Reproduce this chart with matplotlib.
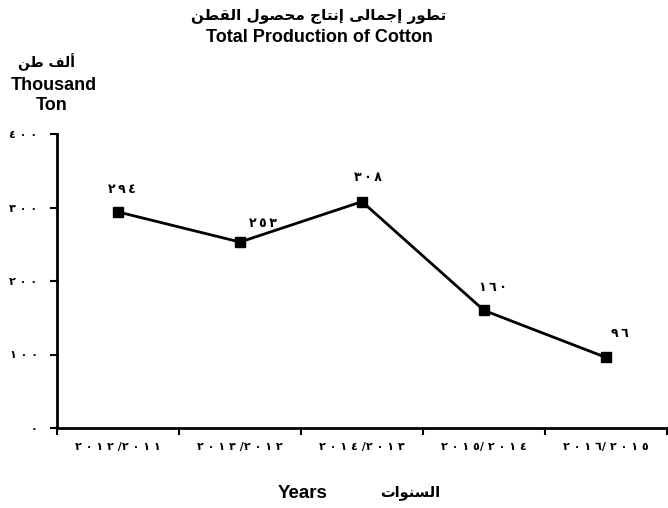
import matplotlib
matplotlib.use("Agg")
import matplotlib.pyplot as plt
import numpy as np

# ---- data ----
years = ["٢٠١٢ /٢٠١١", "٢٠١٣ /٢٠١٢", "٢٠١٤ /٢٠١٣", "٢٠١٥/ ٢٠١٤", "٢٠١٦/ ٢٠١٥"]
production = [294, 253, 308, 160, 96]
value_labels = ["٢٩٤", "٢٥٣", "٣٠٨", "١٦٠", "٩٦"]
yticks = [0, 100, 200, 300, 400]
ytick_labels = ["٠", "١٠٠", "٢٠٠", "٣٠٠", "٤٠٠"]

# ---- minimal Arabic shaping (presentation forms) ----
FORMS = {
    'ا': ('\uFE8D', '\uFE8E', None, None),
    'أ': ('\uFE83', '\uFE84', None, None),
    'إ': ('\uFE87', '\uFE88', None, None),
    'ت': ('\uFE95', '\uFE96', '\uFE97', '\uFE98'),
    'ج': ('\uFE9D', '\uFE9E', '\uFE9F', '\uFEA0'),
    'ح': ('\uFEA1', '\uFEA2', '\uFEA3', '\uFEA4'),
    'ر': ('\uFEAD', '\uFEAE', None, None),
    'س': ('\uFEB1', '\uFEB2', '\uFEB3', '\uFEB4'),
    'ص': ('\uFEB9', '\uFEBA', '\uFEBB', '\uFEBC'),
    'ط': ('\uFEC1', '\uFEC2', '\uFEC3', '\uFEC4'),
    'ف': ('\uFED1', '\uFED2', '\uFED3', '\uFED4'),
    'ق': ('\uFED5', '\uFED6', '\uFED7', '\uFED8'),
    'ل': ('\uFEDD', '\uFEDE', '\uFEDF', '\uFEE0'),
    'م': ('\uFEE1', '\uFEE2', '\uFEE3', '\uFEE4'),
    'ن': ('\uFEE5', '\uFEE6', '\uFEE7', '\uFEE8'),
    'و': ('\uFEED', '\uFEEE', None, None),
    'ى': ('\uFEEF', '\uFEF0', None, None),
}


def dual(c):
    return c in FORMS and FORMS[c][2] is not None


def shape(text):
    out = []
    n = len(text)
    for i, c in enumerate(text):
        if c not in FORMS:
            out.append(c)
            continue
        prev_join = i > 0 and dual(text[i - 1])
        next_join = dual(c) and i + 1 < n and text[i + 1] in FORMS
        iso, fin, ini, med = FORMS[c]
        if prev_join and next_join:
            out.append(med)
        elif prev_join:
            out.append(fin)
        elif next_join:
            out.append(ini)
        else:
            out.append(iso)
    return ''.join(reversed(out))


def spaced(s, sep='\u2009'):
    # add letter spacing between Arabic-Indic digits
    res = ''
    for i, c in enumerate(s):
        res += c
        if i + 1 < len(s) and c.isdigit() and s[i + 1].isdigit():
            res += sep
    return res


plt.rcParams['font.family'] = ['Liberation Sans', 'DejaVu Sans']
plt.rcParams['font.weight'] = 'bold'

fig = plt.figure(figsize=(6.68, 5.08), dpi=100)
ax = fig.add_axes([57 / 668, 1 - 428 / 508, 610 / 668, (428 - 134) / 508])

x = np.arange(len(years)) + 0.5
ax.plot(x, production, color='black', lw=2, marker='s', ms=6.5,
        markerfacecolor='black', markeredgecolor='black', zorder=3)

offsets = [(4, 22), (23, 19), (6, 24), (9, 23), (14, 24)]
for xi, yi, lab, off in zip(x, production, value_labels, offsets):
    ax.annotate(spaced(lab), (xi, yi), xytext=off, textcoords='offset pixels',
                ha='center', va='center', fontsize=9, fontweight='bold',
                family=['DejaVu Sans'])

ax.set_xlim(0, len(years))
ax.set_ylim(0, 400)
ax.set_xticks(np.arange(len(years) + 1))
ax.set_xticklabels([])
ax.set_xticks(x, minor=True)
ax.set_xticklabels([spaced(y, ' ') for y in years], minor=True, fontsize=8,
                   fontweight='bold', family=['DejaVu Sans'])
ax.tick_params(axis='x', which='major', direction='out', length=5, width=1.5)
ax.tick_params(axis='x', which='minor', length=0, pad=10)
ax.set_yticks(yticks)
ax.set_yticklabels([spaced(t, ' ') for t in ytick_labels], fontsize=8,
                   fontweight='bold', family=['DejaVu Sans'])
ax.tick_params(axis='y', direction='out', length=5, width=1.5, pad=9)

for s in ['top', 'right']:
    ax.spines[s].set_visible(False)
for s in ['left', 'bottom']:
    ax.spines[s].set_linewidth(2)

fig.text(319 / 668, 1 - 16 / 508, shape('تطور إجمالى إنتاج محصول القطن'),
         ha='center', va='center', fontsize=11, fontweight='bold', family=['DejaVu Sans'])
fig.text(319 / 668, 1 - 38 / 508, 'Total Production of Cotton',
         ha='center', va='center', fontsize=13, fontweight='bold')
fig.text(47 / 668, 1 - 62 / 508, shape('ألف طن'),
         ha='center', va='center', fontsize=10, fontweight='bold', family=['DejaVu Sans'])
fig.text(54 / 668, 1 - 86 / 508, 'Thousand',
         ha='center', va='center', fontsize=13, fontweight='bold')
fig.text(52 / 668, 1 - 106 / 508, 'Ton',
         ha='center', va='center', fontsize=13, fontweight='bold')
fig.text(303 / 668, 1 - 493 / 508, 'Years',
         ha='center', va='center', fontsize=13.5, fontweight='bold')
fig.text(410 / 668, 1 - 493 / 508, shape('السنوات'),
         ha='center', va='center', fontsize=10.5, fontweight='bold', family=['DejaVu Sans'])

fig.savefig('out.png', dpi=100)
